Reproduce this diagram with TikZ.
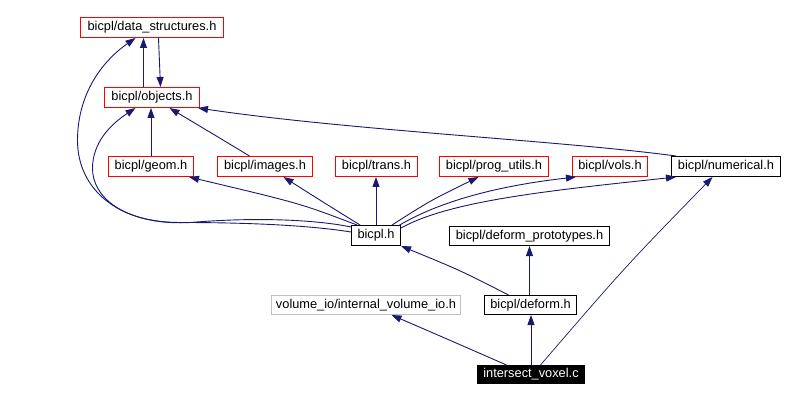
\documentclass[tikz,border=0pt]{standalone}
\usepackage{fontspec}
\setmainfont{Liberation Sans}
\usetikzlibrary{arrows.meta,calc}
\definecolor{edgecol}{HTML}{191970}
\definecolor{redbd}{HTML}{FF0000}
\definecolor{graybd}{HTML}{BFBFBF}
\begin{document}
\begin{tikzpicture}[x=1pt,y=-1pt,
  box/.style={draw,line width=1pt,minimum height=20pt,inner sep=0pt,font=\fontsize{12.8}{14}\selectfont,anchor=center},
  redbox/.style={box,draw=redbd},
  blackbox/.style={box,draw=black},
  graybox/.style={box,draw=graybd},
  rootbox/.style={box,draw=black,fill=black,text=white},
  dep/.style={draw=edgecol,line width=0.9pt,-{Triangle[length=10pt,width=7pt]}}]
\useasboundingbox (0,0) rectangle (785,401);
\begin{scope}[shift={(0.5,0.5)}]
\node[redbox,minimum width=143pt] (ds) at (151.5,27) {bicpl/data\_structures.h};
\node[redbox,minimum width=95pt] (obj) at (151.5,97) {bicpl/objects.h};
\node[redbox,minimum width=85pt] (geom) at (150.5,166) {bicpl/geom.h};
\node[redbox,minimum width=95pt] (images) at (264.5,166) {bicpl/images.h};
\node[redbox,minimum width=82pt] (trans) at (376,166) {bicpl/trans.h};
\node[redbox,minimum width=109pt] (prog) at (493.5,166) {bicpl/prog\_utils.h};
\node[redbox,minimum width=75pt] (vols) at (609.5,166) {bicpl/vols.h};
\node[blackbox,minimum width=109pt] (num) at (725.5,166) {bicpl/numerical.h};
\node[blackbox,minimum width=49pt] (bicpl) at (375.5,235) {bicpl.h};
\node[blackbox,minimum width=160pt,minimum height=19pt] (defp) at (529,235.5) {bicpl/deform\_prototypes.h};
\node[graybox,minimum width=189pt,minimum height=19pt] (ivio) at (365.5,304.5) {volume\_io/internal\_volume\_io.h};
\node[blackbox,minimum width=92pt,minimum height=19pt] (deform) at (530,304.5) {bicpl/deform.h};
\node[rootbox,minimum width=107pt,minimum height=18pt] (iv) at (530.5,374) {intersect\_voxel.c};

% objects <-> data_structures
\draw[dep] ($(obj.north)+(-8.5,0)$) -- ($(ds.south)+(-8.5,0)$);
\draw[dep] ($(ds.south)+(6.5,0)$) -- ($(obj.north)+(8.5,0)$);
% to objects
\draw[dep] (geom.north) -- (geom.north |- obj.south);
\draw[dep] ($(images.north)+(-15.5,0)$) .. controls (215,135) .. ($(obj.south)+(17.5,0)$);
\draw[dep] ($(num.north west)+(5,0)$) .. controls (560,140) and (350,130) .. ($(obj.south east)+(-2,0)$);
% bicpl.h long curves
\draw[dep] ($(bicpl.north west)+(0,2)$) .. controls (320,220) and (260,216) .. (190,222)
   .. controls (120,226) and (77,190) .. (77,140)
   .. controls (77,95) and (100,62) .. ($(ds.south)+(-16.5,0)$);
\draw[dep] ($(bicpl.north west)+(0,7)$) .. controls (310,225) and (250,222) .. (180,222)
   .. controls (120,222) and (92,195) .. (92,168)
   .. controls (92,142) and (110,124) .. ($(obj.south)+(-16.5,0)$);
% bicpl.h upward
\draw[dep] ($(bicpl.north west)+(6,0)$) .. controls (300,203) .. ($(geom.south east)+(-5,0)$);
\draw[dep] ($(bicpl.north west)+(9,0)$) .. controls (320,200) .. ($(images.south)+(18.5,0)$);
\draw[dep] (bicpl.north) -- (bicpl.north |- trans.south);
\draw[dep] ($(bicpl.north east)+(-9,0)$) .. controls (430,200) .. ($(prog.south)+(-15.5,0)$);
\draw[dep] ($(bicpl.north east)+(-3,1)$) .. controls (440,200) and (500,185) .. ($(vols.south west)+(4,0)$);
\draw[dep] ($(bicpl.north east)+(0,3)$) .. controls (450,200) and (550,190) .. ($(num.south west)+(5,0)$);
% deform.h
\draw[dep] ($(deform.north)+(-22,0)$) .. controls (460,270) .. (bicpl.south east);
\draw[dep] (defp.south |- deform.north) -- (defp.south);
% intersect_voxel.c
\draw[dep] ($(iv.north)+(-24.5,0)$) .. controls (450,340) .. ($(ivio.south)+(25.5,0)$);
\draw[dep] (iv.north) -- (iv.north |- deform.south);
\draw[dep,line width=0.7pt] ($(iv.north)+(9.5,0)$) .. controls (624,267) .. ($(num.south)+(-13.5,0)$);
\end{scope}
\end{tikzpicture}
\end{document}
